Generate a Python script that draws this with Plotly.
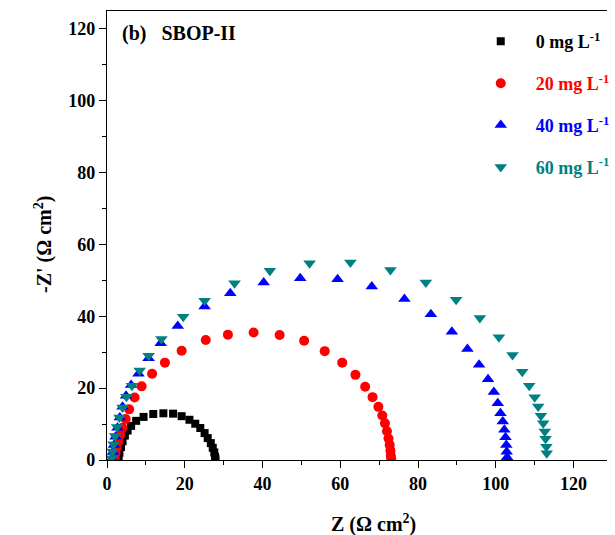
import plotly.graph_objects as go

# ---- data ----
x0 = [3.0, 3.2, 3.6, 4.0, 4.6, 5.3, 6.2, 7.5, 9.4, 11.9, 14.5, 17.0, 19.2, 21.2, 22.7, 24.0, 25.1, 25.9, 26.7, 27.2, 27.6, 27.8, 27.9]
y0 = [0.5, 2.0, 3.6, 5.2, 6.8, 8.2, 9.5, 10.9, 12.0, 12.8, 13.0, 12.9, 12.2, 11.2, 10.1, 8.9, 7.5, 6.1, 4.7, 3.4, 2.1, 0.9, 0.2]

x20 = [2.0, 2.2, 2.5, 2.9, 3.4, 4.0, 4.8, 5.7, 7.1, 8.9, 11.6, 14.9, 19.2, 25.4, 31.1, 37.7, 44.4, 50.7, 56.0, 60.5, 63.9, 66.4, 68.3, 69.8, 70.8, 71.5, 72.0, 72.4, 72.7, 72.9, 73.0, 73.1]
y20 = [0.4, 1.8, 3.4, 5.1, 7.0, 9.0, 11.4, 14.1, 17.4, 20.5, 24.0, 27.1, 30.4, 33.4, 34.9, 35.5, 34.8, 33.2, 30.3, 27.1, 23.7, 20.4, 17.5, 14.8, 12.4, 10.2, 8.0, 6.0, 4.2, 2.6, 1.2, 0.3]

x40 = [1.3, 1.5, 1.8, 2.2, 2.7, 3.3, 4.0, 4.9, 6.2, 8.1, 10.7, 13.8, 18.2, 25.1, 31.7, 40.3, 49.7, 59.3, 68.1, 76.5, 83.3, 88.7, 92.7, 95.7, 98.0, 99.5, 100.5, 101.2, 101.8, 102.2, 102.5, 102.7, 102.8, 102.9]
y40 = [0.4, 2.2, 4.2, 6.5, 9.0, 11.8, 14.8, 17.9, 20.9, 24.0, 28.3, 32.5, 37.3, 42.7, 46.4, 49.4, 50.6, 50.3, 48.3, 44.8, 40.6, 35.7, 30.9, 26.5, 22.5, 18.9, 15.8, 13.0, 10.7, 8.4, 6.3, 4.2, 2.3, 0.8]

x60 = [1.2, 1.4, 1.7, 2.1, 2.6, 3.2, 4.0, 5.0, 6.4, 8.4, 10.7, 14.0, 19.6, 25.1, 32.8, 41.9, 52.1, 62.6, 72.9, 82.0, 89.8, 95.9, 100.8, 104.3, 106.8, 108.6, 110.0, 110.9, 111.6, 112.2, 112.6, 112.8, 113.0, 113.1]
y60 = [0.5, 2.4, 4.4, 6.7, 9.2, 11.8, 14.6, 17.6, 20.7, 24.9, 29.0, 33.7, 39.9, 44.3, 49.2, 52.7, 54.8, 55.0, 52.9, 49.4, 44.6, 39.5, 34.2, 29.2, 24.6, 20.7, 17.5, 14.9, 12.3, 10.2, 7.9, 5.9, 3.7, 1.9]

labels = ["0 mg L<sup>-1</sup>", "20 mg L<sup>-1</sup>", "40 mg L<sup>-1</sup>", "60 mg L<sup>-1</sup>"]
colors = ["#000000", "#ff0000", "#0000ff", "#008080"]
symbols = ["square", "circle", "triangle-up", "triangle-down"]
sizes = [8, 10, 11, 11]

xticks = [0, 20, 40, 60, 80, 100, 120]
yticks = [0, 20, 40, 60, 80, 100, 120]

FONT = "Liberation Serif"

fig = go.Figure()
series = [(x0, y0), (x20, y20), (x40, y40), (x60, y60)]
for i, (xs, ys) in enumerate(series):
    fig.add_trace(go.Scatter(
        x=xs, y=ys, mode="markers",
        name="<span style='color:%s'>%s</span>" % (colors[i], labels[i]),
        legendgroup="g%d" % i,
        marker=dict(symbol=symbols[i], size=sizes[i], color=colors[i], line=dict(width=0)),
    ))

axis_common = dict(
    showgrid=False, zeroline=False, showline=True, linecolor="black", linewidth=1.3,
    ticks="outside", ticklen=7, tickwidth=1.3, tickcolor="black",
    tickfont=dict(family=FONT, size=18, color="black", weight="bold"),
)

fig.update_layout(
    width=615, height=535,
    margin=dict(l=107, r=0, t=11, b=75),
    paper_bgcolor="white", plot_bgcolor="white",
    xaxis=dict(range=[0, 128.6], tickvals=xticks, mirror=True,
               minor=dict(dtick=10, ticks="outside", ticklen=4, tickwidth=1.3, tickcolor="black"),
               **axis_common),
    yaxis=dict(range=[0, 125], tickvals=yticks, mirror=False,
               minor=dict(dtick=10, ticks="outside", ticklen=4, tickwidth=1.3, tickcolor="black"),
               **axis_common),
    showlegend=True,
    legend=dict(x=0.7175, xanchor="left", y=0.973, yanchor="top",
                itemwidth=60, tracegroupgap=15.5, bgcolor="rgba(0,0,0,0)",
                font=dict(family=FONT, size=18, color="black", weight="bold")),
    annotations=[
        dict(text="(b)\u00a0\u00a0\u00a0SBOP-II", xref="paper", yref="paper", x=(120 - 107) / 508, y=(460 - 34) / 449,
             xanchor="left", yanchor="middle", showarrow=False,
             font=dict(family=FONT, size=20, color="black", weight="bold")),
        dict(text="Z (Ω cm<sup>2</sup>)", xref="paper", yref="paper", x=(378 - 107) / 508, y=(460 - 523) / 449,
             xanchor="center", yanchor="middle", showarrow=False,
             font=dict(family=FONT, size=20, color="black", weight="bold")),
        dict(text="-Z' (Ω cm<sup>2</sup>)", xref="paper", yref="paper", x=(42 - 107) / 508, y=(460 - 245) / 449,
             xanchor="center", yanchor="middle", showarrow=False, textangle=-90,
             font=dict(family=FONT, size=20, color="black", weight="bold")),
    ],
)

fig.write_html("out.html", config={"displayModeBar": False},
               post_script="document.body.style.margin='0';document.body.style.overflow='hidden';")
